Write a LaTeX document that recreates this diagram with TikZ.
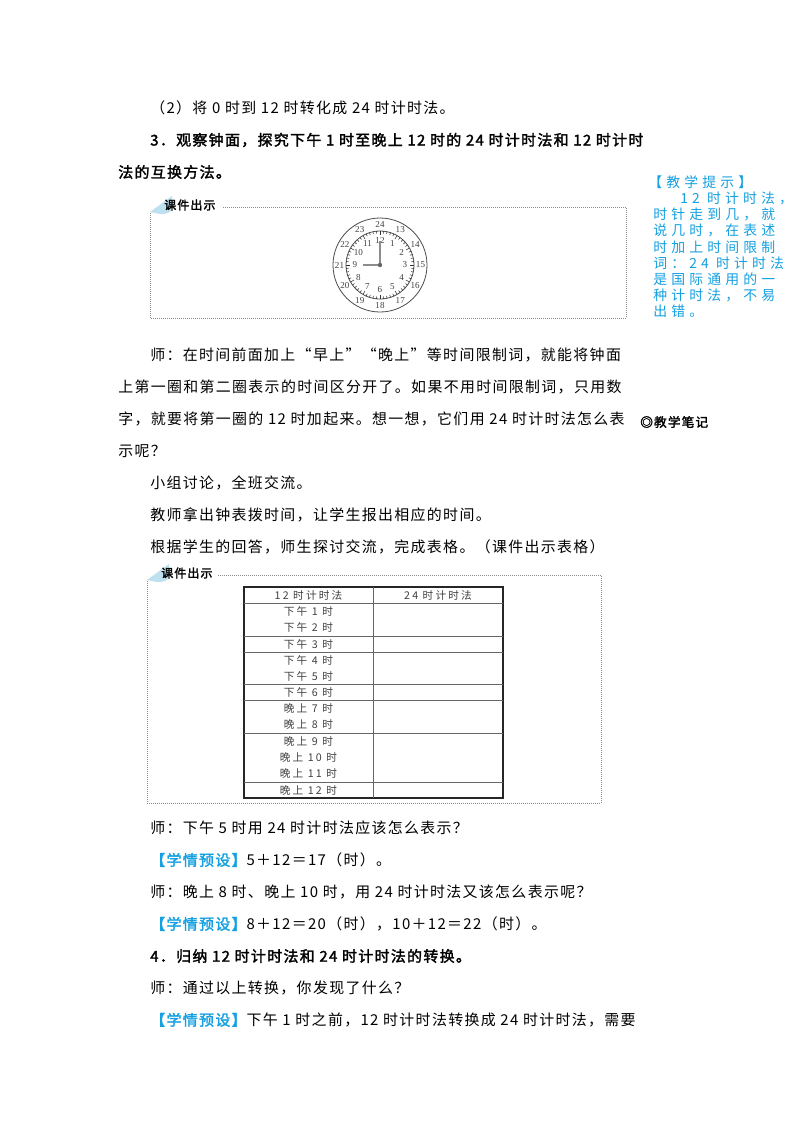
\documentclass[tikz,border=0pt]{standalone}
\usetikzlibrary{calc}
\usepackage{fontspec}
\setmainfont{Liberation Serif}
\newfontfamily\cjk{Noto Sans CJK SC}[LetterSpace=9]
\newfontfamily\cjkb{Noto Sans CJK SC}[FakeBold=2,LetterSpace=9]
\newfontfamily\cjks{Noto Sans CJK SC}[LetterSpace=30]
\newfontfamily\cjkc{Noto Sans CJK SC}[LetterSpace=20]
\definecolor{tip}{RGB}{20,160,225}
\definecolor{tab}{RGB}{190,225,240}
\begin{document}
\begin{tikzpicture}[x=0.75pt,y=-0.75pt,
  txt/.style={anchor=west,inner sep=0,font=\cjk\fontsize{11.2pt}{12pt}\selectfont},
  btxt/.style={anchor=west,inner sep=0,font=\cjkb\fontsize{11.2pt}{12pt}\selectfont},
  side/.style={anchor=west,inner sep=0,text=tip,font=\cjks\fontsize{10.4pt}{12pt}\selectfont},
  cell/.style={inner sep=0,font=\cjkc\fontsize{8pt}{9pt}\selectfont,text=black!75},
  box/.style={draw=black!45,densely dotted,line width=0.5pt},
  num/.style={inner sep=0,font=\fontsize{6.8pt}{7pt}\selectfont,text=black!75}]
\useasboundingbox[fill=white] (0,0) rectangle (800,1132);
% text lines
\node[txt] (l1) at (150,108) {（2）将 0 时到 12 时转化成 24 时计时法。};
\node[btxt] (l2) at (150,140) {3．观察钟面，探究下午 1 时至晚上 12 时的 24 时计时法和 12 时计时};
\node[btxt] (l3) at (118,172) {法的互换方法。};
% box 1
\draw[box] (150,207) rectangle (626,318);
\fill[white] (150,200) rectangle (222,212);
\fill[tab] (150,212) -- (172,196) -- (172,208) to[out=-90,in=0] (160,214) -- cycle;
\node[btxt,font=\cjkb\fontsize{9pt}{10pt}\selectfont] (k1) at (164,205) {课件出示};
% clock
\coordinate (c) at (380,265);
\draw[black!70,line width=0.6pt] (c) circle (47);
\draw[black!70,line width=0.6pt] (c) circle (34);
\foreach \i in {0,...,59}{
  \pgfmathsetmacro\rr{mod(\i,5)==0 ? 30 : 31.5}
  \draw[black!80,line width=0.4pt] ($(c)+(\i*6:34)$) -- ($(c)+(\i*6:\rr)$);}
\foreach \n in {1,...,12}{\pgfmathsetmacro\a{\n*30-90}\node[num] at ($(c)+(\a:25)$) {\n};}
\foreach \n in {13,...,24}{\pgfmathsetmacro\a{\n*30-90}\node[num,fill=white,inner sep=0.3pt] at ($(c)+(\a:40.5)$) {\n};}
\draw[black!45,line width=1.6pt] (c) -- ++(0,-24);
\draw[black!45,line width=1.6pt] (c) -- ++(-17,0);
\fill[black!60] (c) circle (2.2);
% paragraph
\node[txt] (p1) at (150,355) {师：在时间前面加上“早上”“晚上”等时间限制词，就能将钟面};
\node[txt] (p2) at (118,387) {上第一圈和第二圈表示的时间区分开了。如果不用时间限制词，只用数};
\node[txt] (p3) at (118,419) {字，就要将第一圈的 12 时加起来。想一想，它们用 24 时计时法怎么表};
\node[txt] (p4) at (118,451) {示呢？};
\node[txt] (p5) at (150,483) {小组讨论，全班交流。};
\node[txt] (p6) at (150,515) {教师拿出钟表拨时间，让学生报出相应的时间。};
\node[txt] (p7) at (150,547) {根据学生的回答，师生探讨交流，完成表格。（课件出示表格）};
% box 2
\draw[box] (147,575) rectangle (601,803);
\fill[white] (147,568) rectangle (218,580);
\fill[tab] (147,580) -- (169,564) -- (169,576) to[out=-90,in=0] (157,582) -- cycle;
\node[btxt,font=\cjkb\fontsize{9pt}{10pt}\selectfont] (k2) at (161,573) {课件出示};
% table
\draw[black!85,line width=0.9pt] (244,587) rectangle (503,798);
\draw[black!60,line width=0.5pt] (373,587) -- (373,798);
\foreach \y in {603,636,652,684,700,733,782}{\draw[black!60,line width=0.5pt] (244,\y) -- (503,\y);}
\node[cell] (h1) at (308.5,595) {12 时计时法};
\node[cell] (h2) at (438,595) {24 时计时法};
\foreach \y/\t in {611/下午 1 时,627/下午 2 时,644/下午 3 时,660/下午 4 时,676/下午 5 时,692/下午 6 时,708/晚上 7 时,724/晚上 8 时,741/晚上 9 时,757/晚上 10 时,773/晚上 11 时,790/晚上 12 时}{\node[cell] at (308.5,\y) {\t};}
% side note
\node[side] (s0) at (648,182) {【教学提示】};
\node[side] (s1) at (680,198) {12 时计时法，};
\foreach \y/\t in {214/时针走到几，就,230/说几时，在表述,247/时加上时间限制,263/词：24 时计时法,279/是国际通用的一,295/种计时法，不易,311/出错。}{\node[side] at (653,\y) {\t};}
\node[btxt,font=\cjkb\fontsize{9.5pt}{10pt}\selectfont] (note) at (640,422) {◎教学笔记};
% later lines
\node[txt] (q1) at (150,828) {师：下午 5 时用 24 时计时法应该怎么表示？};
\node[txt] (q2) at (150,860) {\textcolor{tip}{\cjkb【学情预设】}5＋12＝17（时）。};
\node[txt] (q3) at (150,892) {师：晚上 8 时、晚上 10 时，用 24 时计时法又该怎么表示呢？};
\node[txt] (q4) at (150,924) {\textcolor{tip}{\cjkb【学情预设】}8＋12＝20（时），10＋12＝22（时）。};
\node[btxt] (q5) at (150,956) {4．归纳 12 时计时法和 24 时计时法的转换。};
\node[txt] (q6) at (150,988) {师：通过以上转换，你发现了什么？};
\node[txt] (q7) at (150,1020) {\textcolor{tip}{\cjkb【学情预设】}下午 1 时之前，12 时计时法转换成 24 时计时法，需要};
\end{tikzpicture}
\end{document}
